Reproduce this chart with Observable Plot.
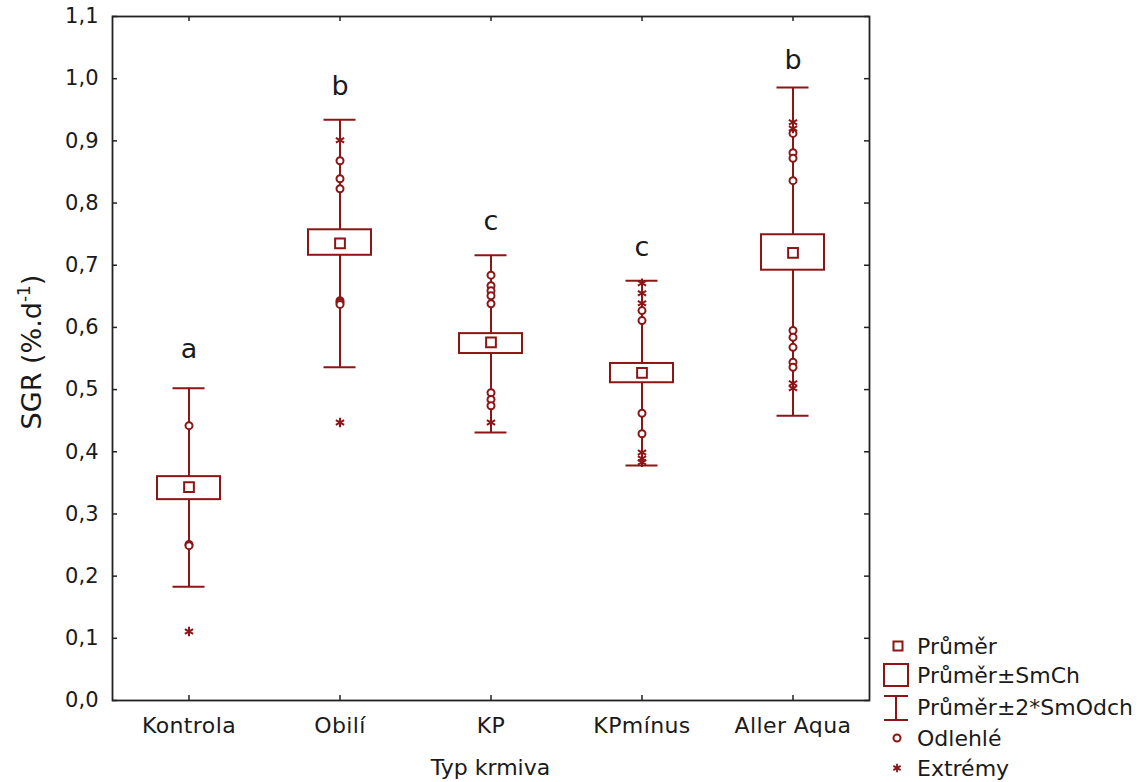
<!DOCTYPE html>
<html>
<head>
<meta charset="utf-8">
<script src="https://cdn.jsdelivr.net/npm/d3@7"></script>
<script src="https://cdn.jsdelivr.net/npm/@observablehq/plot@0.6"></script>
<style>
  html, body { margin: 0; padding: 0; background: #fff; }
  #chart { position: relative; width: 1147px; height: 782px; }
  g[aria-label="x-axis"] text, g[aria-label="x-axis tick label"] text { font-size: 22px; letter-spacing: 0.4px; }
</style>
</head>
<body>
<div id="chart"></div>
<script>
// ---- data ----
const categories = ["Kontrola", "Obilí", "KP", "KPmínus", "Aller Aqua"];
const means      = [0.343, 0.735, 0.576, 0.527, 0.720];
const seLow      = [0.323, 0.716, 0.558, 0.511, 0.692];
const seHigh     = [0.360, 0.757, 0.590, 0.542, 0.749];
const sdLow      = [0.183, 0.536, 0.431, 0.378, 0.458];
const sdHigh     = [0.502, 0.934, 0.716, 0.675, 0.986];
const outliers = [
  ["Kontrola", 0.442], ["Kontrola", 0.251], ["Kontrola", 0.249],
  ["Obilí", 0.868], ["Obilí", 0.839], ["Obilí", 0.823], ["Obilí", 0.643], ["Obilí", 0.640], ["Obilí", 0.637],
  ["KP", 0.684], ["KP", 0.667], ["KP", 0.659], ["KP", 0.651], ["KP", 0.638], ["KP", 0.495], ["KP", 0.484], ["KP", 0.474],
  ["KPmínus", 0.627], ["KPmínus", 0.611], ["KPmínus", 0.462], ["KPmínus", 0.429],
  ["Aller Aqua", 0.912], ["Aller Aqua", 0.881], ["Aller Aqua", 0.872], ["Aller Aqua", 0.836],
  ["Aller Aqua", 0.595], ["Aller Aqua", 0.584], ["Aller Aqua", 0.568], ["Aller Aqua", 0.544], ["Aller Aqua", 0.536]
];
const extremes = [
  ["Kontrola", 0.111],
  ["Obilí", 0.901], ["Obilí", 0.447],
  ["KP", 0.447],
  ["KPmínus", 0.671], ["KPmínus", 0.655], ["KPmínus", 0.639], ["KPmínus", 0.399], ["KPmínus", 0.389], ["KPmínus", 0.383],
  ["Aller Aqua", 0.930], ["Aller Aqua", 0.920], ["Aller Aqua", 0.510], ["Aller Aqua", 0.502]
];
const letters    = ["a", "b", "c", "c", "b"];
const letterY    = [0.565, 0.987, 0.771, 0.729, 1.030];
const yTicks     = [0, 0.1, 0.2, 0.3, 0.4, 0.5, 0.6, 0.7, 0.8, 0.9, 1.0, 1.1];
const legendItems = ["Průměr", "Průměr±SmCh", "Průměr±2*SmOdch", "Odlehlé", "Extrémy"];
const xTitle = "Typ krmiva";

// ---- tables ----
const groups = categories.map((c, i) => ({
  name: c, mean: means[i], lo: seLow[i], hi: seHigh[i], wlo: sdLow[i], whi: sdHigh[i],
  letter: letters[i], ly: letterY[i]
}));
const caps = groups.flatMap(g => [{name: g.name, y: g.wlo}, {name: g.name, y: g.whi}]);
const outl = outliers.map(([name, v]) => ({name, v}));
const extr = extremes.map(([name, v]) => ({name, v}));

const red = "#8c1515";
const W = 1147, H = 782, mL = 112, mR = 278, mT = 16, mB = 82;
const fw = W - mL - mR, fh = H - mT - mB;

const plot = Plot.plot({
  width: W, height: H,
  marginLeft: mL, marginRight: mR, marginTop: mT, marginBottom: mB,
  style: {fontFamily: "DejaVu Sans", fontSize: "21px", color: "#1a1a1a", background: "white"},
  x: {type: "band", domain: categories, paddingInner: 0.584, paddingOuter: 0.292, tickSize: 0, tickPadding: 17, label: null},
  y: {domain: [0, 1.1], ticks: yTicks, tickFormat: d => d3.format(".1f")(d).replace(".", ","), tickSize: 0, tickPadding: 14, label: null},
  marks: [
    Plot.ruleX(groups, {x: "name", y1: "wlo", y2: "whi", stroke: red, strokeWidth: 2}),
    Plot.tickY(caps, {x: "name", y: "y", stroke: red, strokeWidth: 2, insetLeft: 15.5, insetRight: 15.5}),
    Plot.barY(groups, {x: "name", y1: "lo", y2: "hi", fill: "white", stroke: red, strokeWidth: 2}),
    Plot.dot(groups, {x: "name", y: "mean", symbol: "square", r: 5.5, stroke: red, strokeWidth: 2, fill: "white"}),
    Plot.dot(outl, {x: "name", y: "v", symbol: "circle", r: 3.5, stroke: red, strokeWidth: 2, fill: "white"}),
    Plot.dot(extr, {x: "name", y: "v", symbol: "asterisk", r: 4.5, stroke: red, strokeWidth: 2}),
    Plot.text(groups, {x: "name", y: "ly", text: "letter", fontSize: 27, fill: "#1a1a1a"}),
    // inward ticks on all four sides
    Plot.tickY(yTicks, {y: d => d, insetRight: fw - 5, stroke: "#222", strokeWidth: 1.5}),
    Plot.tickY(yTicks, {y: d => d, insetLeft: fw - 5, stroke: "#222", strokeWidth: 1.5}),
    Plot.tickX(categories, {x: d => d, insetTop: fh - 5, stroke: "#222", strokeWidth: 1.5}),
    Plot.tickX(categories, {x: d => d, insetBottom: fh - 5, stroke: "#222", strokeWidth: 1.5}),
    Plot.frame({stroke: "#222", strokeWidth: 1.8})
  ]
});

document.getElementById("chart").appendChild(plot);
const svg = d3.select(plot);

// y-axis title with superscript
const yt = svg.append("text")
  .attr("transform", "translate(41,352) rotate(-90)")
  .attr("text-anchor", "middle")
  .attr("font-family", "DejaVu Sans").attr("font-size", 27).attr("fill", "#1a1a1a");
yt.append("tspan").text("SGR (%.d");
yt.append("tspan").attr("font-size", 17).attr("dy", -11).text("-1");
yt.append("tspan").attr("dy", 11).text(")");

// x-axis title
svg.append("text")
  .attr("x", mL + fw / 2).attr("y", 775)
  .attr("text-anchor", "middle")
  .attr("font-family", "DejaVu Sans").attr("font-size", 22).attr("fill", "#1a1a1a")
  .text(xTitle);

// legend
const lg = svg.append("g").attr("stroke", red).attr("stroke-width", 2).attr("fill", "white");
const rowsY = [646, 675, 707, 738, 768];
lg.append("rect").attr("x", 893.5).attr("y", 641.5).attr("width", 9).attr("height", 9);
lg.append("rect").attr("x", 884).attr("y", 664).attr("width", 24).attr("height", 22);
lg.append("line").attr("x1", 896).attr("x2", 896).attr("y1", 696).attr("y2", 720);
lg.append("line").attr("x1", 884).attr("x2", 908).attr("y1", 696).attr("y2", 696);
lg.append("line").attr("x1", 884).attr("x2", 908).attr("y1", 720).attr("y2", 720);
lg.append("circle").attr("cx", 897).attr("cy", 738).attr("r", 3.5);
lg.append("path").attr("transform", "translate(897,768)").attr("stroke-width", 1.8)
  .attr("d", d3.symbol(d3.symbolAsterisk, 50)());
svg.append("g").attr("text-anchor", "start").selectAll("text").data(legendItems).join("text")
  .attr("x", 917).attr("y", (d, i) => rowsY[i]).attr("dy", "0.35em")
  .attr("text-anchor", "start")
  .attr("font-family", "DejaVu Sans").attr("font-size", 22).attr("fill", "#1a1a1a")
  .text(d => d);
</script>
</body>
</html>
